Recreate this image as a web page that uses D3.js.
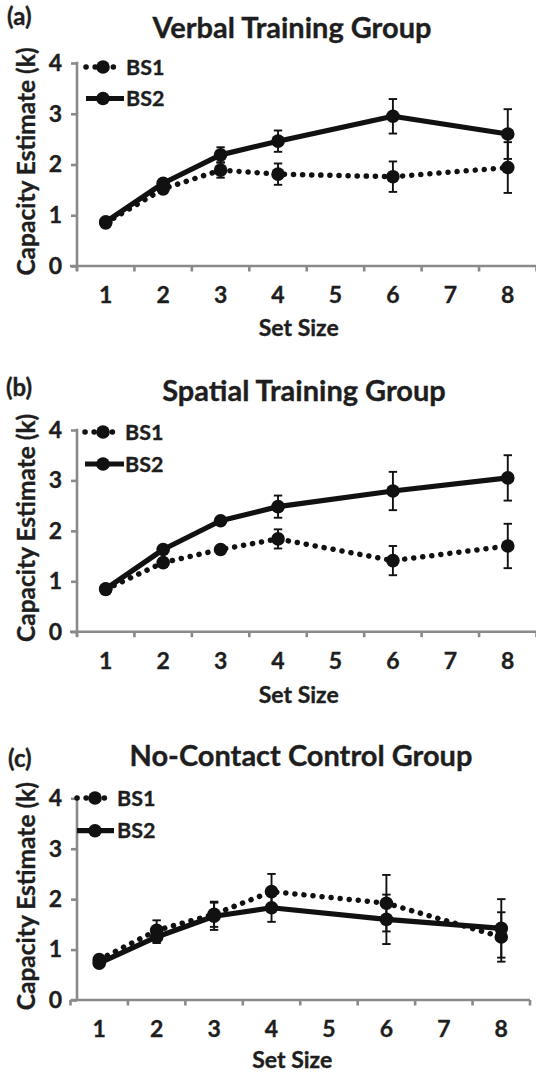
<!DOCTYPE html>
<html>
<head>
<meta charset="utf-8">
<script src="https://cdn.jsdelivr.net/npm/d3@7/dist/d3.min.js"></script>
<style>
  html, body { margin: 0; padding: 0; background: #fff; }
  svg { display: block; }
  text { font-family: Lato, "Open Sans", sans-serif; font-weight: 700; fill: #1e1e1e; stroke: #1e1e1e; stroke-width: 0.35px; }
</style>
</head>
<body>
<svg id="chart" width="536" height="1072"></svg>
<script>
// Working-memory capacity (k) by set size, two baseline sessions per group
const setSizes = ["1", "2", "3", "4", "5", "6", "7", "8"];
const measuredSizes = ["1", "2", "3", "4", "6", "8"];
const yTicks = [0, 1, 2, 3, 4];
const seriesNames = ["BS1", "BS2"];
const panelLabels = ["(a)", "(b)", "(c)"];
const panelTitles = ["Verbal Training Group", "Spatial Training Group", "No-Contact Control Group"];
const xAxisTitle = "Set Size";
const yAxisTitle = "Capacity Estimate (k)";

const verbalBS1 = [0.85, 1.52, 1.89, 1.81, 1.76, 1.94];
const verbalBS1Err = [0.05, 0.06, 0.15, 0.21, 0.30, 0.50];
const verbalBS2 = [0.87, 1.63, 2.19, 2.46, 2.95, 2.60];
const verbalBS2Err = [0.05, 0.06, 0.15, 0.21, 0.34, 0.49];

const spatialBS1 = [0.84, 1.37, 1.63, 1.84, 1.41, 1.70];
const spatialBS1Err = [0.04, 0.06, 0.06, 0.19, 0.29, 0.44];
const spatialBS2 = [0.85, 1.63, 2.20, 2.48, 2.79, 3.05];
const spatialBS2Err = [0.04, 0.06, 0.07, 0.22, 0.38, 0.45];

const controlBS1 = [0.80, 1.38, 1.70, 2.15, 1.92, 1.25];
const controlBS1Err = [0.06, 0.20, 0.25, 0.35, 0.56, 0.49];
const controlBS2 = [0.73, 1.25, 1.66, 1.83, 1.60, 1.42];
const controlBS2Err = [0.05, 0.12, 0.27, 0.28, 0.49, 0.58];

const panelData = [
  [{ v: verbalBS1, e: verbalBS1Err }, { v: verbalBS2, e: verbalBS2Err }],
  [{ v: spatialBS1, e: spatialBS1Err }, { v: spatialBS2, e: spatialBS2Err }],
  [{ v: controlBS1, e: controlBS1Err }, { v: controlBS2, e: controlBS2Err }]
];

// Page layout of each panel
const layouts = [
  { top: 63, bottom: 266, x0: 77, x1: 536.5, yAxisX: 77, axisStart: 70,
    titleX: 292, titleY: 38, labelX: 7, labelY: 25, setSizeY: 336,
    legY: [67, 98.5], legX0: 86, legMark: 103, legX1: [118, 124], legText: 126 },
  { top: 430, bottom: 631.7, x0: 77, x1: 536.5, yAxisX: 77, axisStart: 70,
    titleX: 304, titleY: 401, labelX: 6, labelY: 396, setSizeY: 703,
    legY: [432, 464], legX0: 85, legMark: 103, legX1: [118, 124], legText: 125 },
  { top: 798.3, bottom: 1000, x0: 70.5, x1: 530, yAxisX: 77, axisStart: 70.5,
    titleX: 301, titleY: 766, labelX: 8, labelY: 767, setSizeY: 1068,
    legY: [798, 830.7], legX0: 77, legMark: 95, legX1: [110, 114], legText: 117 }
];

const axisColor = "#8a8a8a";
const ink = "#111";
const svg = d3.select("#chart");

layouts.forEach((L, p) => {
  const g = svg.append("g");
  const x = d3.scaleBand().domain(setSizes).range([L.x0, L.x1]);
  const y = d3.scaleLinear().domain([0, 4]).range([L.bottom, L.top]);
  const cx = d => x(d) + x.bandwidth() / 2;

  // panel label and title
  g.append("text").attr("x", L.labelX).attr("y", L.labelY)
    .style("font-size", "24px").text(panelLabels[p]);
  g.append("text").attr("x", L.titleX).attr("y", L.titleY)
    .attr("text-anchor", "middle").style("font-size", "29px").text(panelTitles[p]);

  // y axis
  const yAxis = d3.axisLeft(y).tickValues(yTicks).tickSize(6).tickPadding(9).tickFormat(d3.format("d"));
  const ya = g.append("g").attr("transform", `translate(${L.yAxisX},0)`).call(yAxis);
  ya.select(".domain").remove();
  ya.selectAll(".tick line").attr("stroke", axisColor).attr("stroke-width", 2.6);
  ya.selectAll(".tick text").style("font-size", "23px").style("font-family", "Lato, sans-serif")
    .attr("font-weight", 700);
  g.append("line").attr("x1", L.yAxisX).attr("x2", L.yAxisX)
    .attr("y1", L.top - 1.3).attr("y2", L.bottom + (p < 2 ? 5 : 0))
    .attr("stroke", axisColor).attr("stroke-width", 2.6);

  // x axis: category bands with ticks between them
  const xAxis = d3.axisBottom(x).tickSize(0).tickPadding(21);
  const xa = g.append("g").attr("transform", `translate(0,${L.bottom})`).call(xAxis);
  xa.select(".domain").remove();
  xa.selectAll(".tick text").style("font-size", "23px").style("font-family", "Lato, sans-serif")
    .attr("font-weight", 700);
  g.append("line").attr("x1", L.axisStart).attr("x2", L.x1)
    .attr("y1", L.bottom).attr("y2", L.bottom)
    .attr("stroke", axisColor).attr("stroke-width", 2.6);
  const bounds = setSizes.map(d => x(d)).concat([L.x1]);
  g.selectAll(".xtick").data(bounds).enter().append("line")
    .attr("x1", d => d).attr("x2", d => d)
    .attr("y1", L.bottom).attr("y2", L.bottom + 5.5)
    .attr("stroke", axisColor).attr("stroke-width", 2.6);

  // axis titles
  g.append("text").attr("x", (L.x0 + L.x1) / 2 - 8).attr("y", L.setSizeY)
    .attr("text-anchor", "middle").style("font-size", "23px").text(xAxisTitle);
  g.append("text")
    .attr("transform", `translate(35,${(L.top + L.bottom) / 2 - 3}) rotate(-90)`)
    .attr("text-anchor", "middle").style("font-size", "24.5px").text(yAxisTitle);

  // series: BS1 dotted, BS2 solid
  panelData[p].forEach((s, si) => {
    const pts = measuredSizes.map((k, i) => ({ k, v: s.v[i], e: s.e[i] }));
    const line = d3.line().x(d => cx(d.k)).y(d => y(d.v));
    const path = g.append("path").datum(pts).attr("d", line)
      .attr("fill", "none").attr("stroke", ink).attr("stroke-linejoin", "round");
    if (si === 0) {
      path.attr("stroke-width", 5.5).attr("stroke-dasharray", "0.1 9").attr("stroke-linecap", "round");
    } else {
      path.attr("stroke-width", 5.2);
    }
    const eb = g.append("g").attr("stroke", ink).attr("stroke-width", 1.9);
    pts.forEach(d => {
      const xx = cx(d.k);
      eb.append("line").attr("x1", xx).attr("x2", xx).attr("y1", y(d.v - d.e)).attr("y2", y(d.v + d.e));
      [d.v - d.e, d.v + d.e].forEach(t => {
        eb.append("line").attr("x1", xx - 4.2).attr("x2", xx + 4.2).attr("y1", y(t)).attr("y2", y(t));
      });
    });
    g.selectAll(null).data(pts).enter().append("circle")
      .attr("cx", d => cx(d.k)).attr("cy", d => y(d.v)).attr("r", 6.8).attr("fill", ink);
  });

  // legend
  seriesNames.forEach((name, si) => {
    const ly = L.legY[si];
    const ln = g.append("line").attr("x1", L.legX0).attr("x2", L.legX1[si])
      .attr("y1", ly).attr("y2", ly).attr("stroke", ink);
    if (si === 0) {
      ln.attr("stroke-width", 5.5).attr("stroke-dasharray", "0.1 9").attr("stroke-linecap", "round");
    } else {
      ln.attr("stroke-width", 5.2);
    }
    g.append("circle").attr("cx", L.legMark).attr("cy", ly).attr("r", 6.8).attr("fill", ink);
    g.append("text").attr("x", L.legText).attr("y", ly + 7.5)
      .style("font-size", "21.5px").text(name);
  });
});
</script>
</body>
</html>
